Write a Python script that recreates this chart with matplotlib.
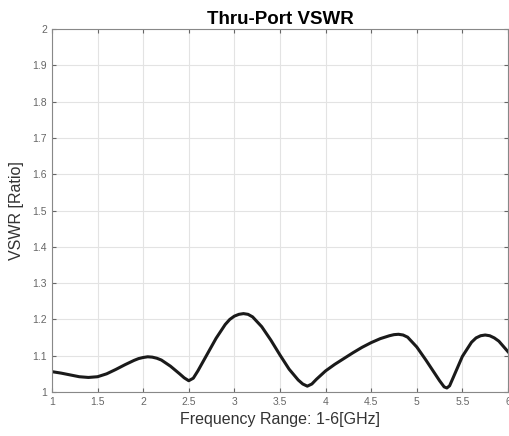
import numpy as np
import matplotlib.pyplot as plt

plt.rcParams['font.family'] = ['Liberation Sans', 'DejaVu Sans']

# VSWR
freq_ghz = [1.0, 1.1, 1.2, 1.3, 1.4, 1.5, 1.6, 1.7, 1.8, 1.9,
            1.95, 2.0, 2.05, 2.1, 2.15, 2.2, 2.3, 2.4, 2.45, 2.5, 2.55,
            2.6, 2.7, 2.8, 2.9, 2.95, 3.0, 3.05, 3.1, 3.15, 3.2, 3.3, 3.4,
            3.5, 3.6, 3.7, 3.75, 3.8, 3.85, 3.9, 4.0, 4.1, 4.2, 4.3, 4.4,
            4.5, 4.6, 4.7, 4.75, 4.8, 4.85, 4.9, 5.0, 5.1, 5.2, 5.25,
            5.3, 5.33, 5.36, 5.4, 5.5, 5.6, 5.65, 5.7, 5.75, 5.8, 5.85,
            5.9, 6.0]
vswr = [1.056, 1.052, 1.047, 1.042, 1.040, 1.042, 1.050, 1.062, 1.075, 1.087,
        1.092, 1.095, 1.097, 1.096, 1.093, 1.088, 1.071, 1.050, 1.039, 1.031, 1.038,
        1.058, 1.103, 1.148, 1.186, 1.200, 1.209, 1.214, 1.216, 1.214, 1.207, 1.180, 1.143,
        1.102, 1.063, 1.033, 1.022, 1.016, 1.022, 1.035, 1.058, 1.076, 1.092, 1.108, 1.123,
        1.136, 1.147, 1.155, 1.158, 1.159, 1.157, 1.151, 1.124, 1.088, 1.050, 1.031,
        1.014, 1.011, 1.017, 1.040, 1.098, 1.137, 1.149, 1.155, 1.157, 1.155, 1.149,
        1.140, 1.111]

x_ticks = [1, 1.5, 2, 2.5, 3, 3.5, 4, 4.5, 5, 5.5, 6]
y_ticks = [1, 1.1, 1.2, 1.3, 1.4, 1.5, 1.6, 1.7, 1.8, 1.9, 2]

fig = plt.figure(figsize=(5.09, 4.36), dpi=100)
ax = fig.add_axes([0.102, 0.101, 0.896, 0.832])

ax.plot(freq_ghz, vswr, color='#1a1a1a', linewidth=2.2, solid_joinstyle='round')

ax.set_xlim(1, 6)
ax.set_ylim(1, 2)
ax.set_xticks(x_ticks)
ax.set_xticklabels(['1', '1.5', '2', '2.5', '3', '3.5', '4', '4.5', '5', '5.5', '6'])
ax.set_yticks(y_ticks)
ax.set_yticklabels(['1', '1.1', '1.2', '1.3', '1.4', '1.5', '1.6', '1.7', '1.8', '1.9', '2'])
ax.grid(True, color='#e3e3e3', linewidth=0.8)
ax.tick_params(direction='in', top=True, right=True, labelsize=7.5,
               colors='#666666', length=3)
for s in ax.spines.values():
    s.set_color('#888888')
    s.set_linewidth(0.8)

ax.set_title('Thru-Port VSWR', fontsize=13.5, fontweight='bold', pad=4)
ax.set_xlabel('Frequency Range: 1-6[GHz]', fontsize=11.5, color='#333333', labelpad=4)
ax.set_ylabel('VSWR [Ratio]', fontsize=11.5, color='#333333', labelpad=6)

fig.savefig('out.png', dpi=100)
